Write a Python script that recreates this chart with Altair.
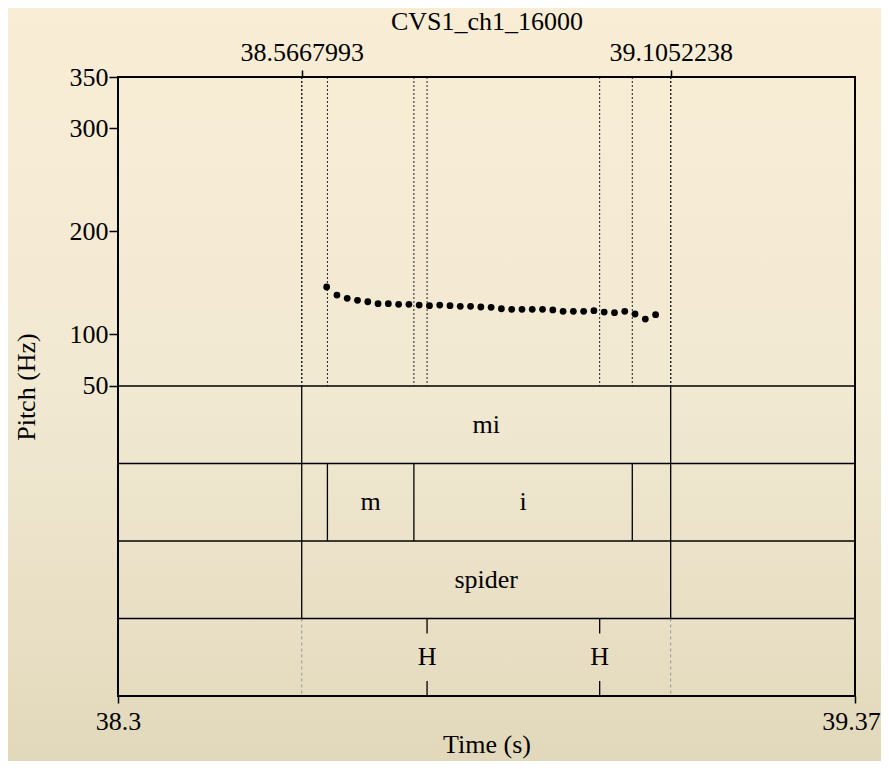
import altair as alt
import pandas as pd

# ---------------- data ----------------
pitch_times = [38.6032, 38.6182, 38.6332, 38.6482, 38.6632, 38.6782, 38.6932, 38.7082,
               38.7232, 38.7382, 38.7532, 38.7682, 38.7832, 38.7982, 38.8132, 38.8282,
               38.8432, 38.8582, 38.8732, 38.8882, 38.9032, 38.9182, 38.9332, 38.9482,
               38.9632, 38.9782, 38.9932, 39.0082, 39.0232, 39.0382, 39.0532, 39.0682,
               39.0832]
pitch_hz = [146.1, 138.3, 135.1, 133.2, 131.8, 129.9, 129.9, 129.3, 129.3, 128.6, 128.0,
            128.6, 128.0, 127.4, 127.4, 126.7, 126.4, 125.0, 124.4, 124.4, 124.4, 124.4,
            123.8, 122.5, 122.5, 122.5, 123.1, 121.8, 121.2, 122.5, 119.9, 115.0, 119.2]

top_tick_times = [38.5667993, 39.1052238]
bottom_tick_times = [38.2987, 39.3742]
y_ticks = [50, 100, 200, 300, 350]

tier1_bounds = [38.5667993, 39.1052238]
tier1_labels = ["mi"]
tier2_bounds = [38.5667993, 38.6043, 38.7305, 39.0492, 39.1052238]
tier2_labels = ["", "m", "i", ""]
tier3_bounds = [38.5667993, 39.1052238]
tier3_labels = ["spider"]
tier4_points = [38.7497, 39.0016]
tier4_labels = ["H", "H"]
tier4_guides = [38.5667993, 39.1052238]

title_top = "CVS1_ch1_16000"
x_title = "Time (s)"
y_title = "Pitch (Hz)"

# ---------------- layout constants ----------------
X_DOMAIN = [38.2987, 39.3742]
PITCH_MIN, PITCH_MAX = 50, 350
TIER_H = 75.25
N_TIERS = 4
Y_DOMAIN = [PITCH_MIN - N_TIERS * TIER_H, PITCH_MAX]
PT_TICK = 14.6
FONT = "Liberation Serif"
FS = 26
W, H = 737, 619
PAD = {"left": 110, "top": 69, "right": 26, "bottom": 65}

xs = alt.Scale(domain=X_DOMAIN, nice=False, zero=False)
ys = alt.Scale(domain=Y_DOMAIN, nice=False, zero=False)


def tier_top(i):
    return PITCH_MIN - i * TIER_H


def tier_bot(i):
    return PITCH_MIN - (i + 1) * TIER_H


# build tables
interval_tiers = [(0, tier1_bounds, tier1_labels), (1, tier2_bounds, tier2_labels),
                  (2, tier3_bounds, tier3_labels)]
vb_rows, lab_rows, dot_rows = [], [], []
for i, bounds, labels in interval_tiers:
    for b in bounds:
        vb_rows.append({"t": b, "y0": tier_top(i), "y1": tier_bot(i)})
        dot_rows.append({"t": b, "y0": PITCH_MAX, "y1": PITCH_MIN})
    for k, lab in enumerate(labels):
        if lab:
            lab_rows.append({"t": (bounds[k] + bounds[k + 1]) / 2,
                             "y": (tier_top(i) + tier_bot(i)) / 2, "txt": lab})
pt_rows = []
for p, lab in zip(tier4_points, tier4_labels):
    dot_rows.append({"t": p, "y0": PITCH_MAX, "y1": PITCH_MIN})
    pt_rows.append({"t": p, "y0": tier_top(3), "y1": tier_top(3) - PT_TICK})
    pt_rows.append({"t": p, "y0": tier_bot(3) + PT_TICK, "y1": tier_bot(3)})
    lab_rows.append({"t": p, "y": (tier_top(3) + tier_bot(3)) / 2, "txt": lab})
guide_rows = [{"t": g, "y0": tier_top(3), "y1": tier_bot(3)} for g in tier4_guides]
hline_rows = [{"y": tier_top(i)} for i in range(N_TIERS)]
frame_df = pd.DataFrame({"x0": [X_DOMAIN[0]], "x1": [X_DOMAIN[1]],
                         "y0": [Y_DOMAIN[0]], "y1": [Y_DOMAIN[1]]})
pts_df = pd.DataFrame({"t": pitch_times, "hz": pitch_hz})

axis_common = dict(domain=False, labelFlush=False, labelOverlap=False, zindex=2,
                   labelFont=FONT, titleFont=FONT, labelFontSize=FS, titleFontSize=FS,
                   titleFontWeight="normal", labelColor="black", titleColor="black",
                   tickColor="black", tickWidth=1.5, grid=False)

# ---------------- layers ----------------
bg = alt.Chart(pd.DataFrame({"k": [0]})).mark_rect(
    fill=alt.Gradient(
        gradient="linear",
        stops=[alt.GradientStop(color="#f9edd5", offset=0),
               alt.GradientStop(color="#f2e9d3", offset=0.5),
               alt.GradientStop(color="#e2d9bc", offset=1)],
        x1=0, x2=0, y1=0, y2=1),
    strokeWidth=0,
).encode(x=alt.value(-PAD["left"]), x2=alt.value(W + PAD["right"]),
         y=alt.value(-PAD["top"]), y2=alt.value(H + PAD["bottom"]))

dotted = alt.Chart(pd.DataFrame(dot_rows)).mark_rule(
    strokeDash=[2, 2], strokeWidth=1, color="#222"
).encode(
    x=alt.X("t:Q", scale=xs, axis=alt.Axis(
        orient="top", values=top_tick_times, format=".7f", title=title_top,
        tickSize=7, labelPadding=5, titlePadding=5, **axis_common)),
    y=alt.Y("y0:Q", scale=ys, axis=None), y2="y1:Q",
)

guides = alt.Chart(pd.DataFrame(guide_rows)).mark_rule(
    strokeDash=[3, 3], strokeWidth=1, color="#999"
).encode(x=alt.X("t:Q", scale=xs, axis=None),
         y=alt.Y("y0:Q", scale=ys, axis=None), y2="y1:Q")

hlines = alt.Chart(pd.DataFrame(hline_rows)).mark_rule(
    strokeWidth=1.6, color="black"
).encode(y=alt.Y("y:Q", scale=ys, axis=None))

vbounds = alt.Chart(pd.DataFrame(vb_rows)).mark_rule(
    strokeWidth=1.3, color="black"
).encode(x=alt.X("t:Q", scale=xs, axis=None),
         y=alt.Y("y0:Q", scale=ys, axis=None), y2="y1:Q")

pticks = alt.Chart(pd.DataFrame(pt_rows)).mark_rule(
    strokeWidth=1.3, color="black"
).encode(x=alt.X("t:Q", scale=xs, axis=None),
         y=alt.Y("y0:Q", scale=ys, axis=None), y2="y1:Q")

labels = alt.Chart(pd.DataFrame(lab_rows)).mark_text(
    font=FONT, fontSize=FS, color="black", align="center", baseline="middle"
).encode(x=alt.X("t:Q", scale=xs, axis=None),
         y=alt.Y("y:Q", scale=ys, axis=None), text="txt:N")

frame = alt.Chart(frame_df).mark_rect(
    fillOpacity=0, stroke="black", strokeWidth=2
).encode(x=alt.X("x0:Q", scale=xs, axis=None), x2="x1:Q",
         y=alt.Y("y0:Q", scale=ys, axis=None), y2="y1:Q")

points = alt.Chart(pts_df).mark_circle(size=46, color="black", opacity=1).encode(
    x=alt.X("t:Q", scale=xs, axis=alt.Axis(
        orient="bottom", values=bottom_tick_times, format=".2~f", title=x_title,
        tickSize=7, labelPadding=5, titlePadding=-3,
        labelOffset=alt.condition("datum.value > 39", alt.value(-4), alt.value(0)),
        **axis_common)),
    y=alt.Y("hz:Q", scale=ys, axis=alt.Axis(
        orient="left", values=y_ticks, title=y_title, tickSize=9, labelPadding=1,
        titlePadding=30, **axis_common)),
)

chart = alt.layer(
    bg, dotted, guides, hlines, vbounds, pticks, labels, frame, points
).resolve_axis(x="independent", y="independent").properties(
    width=W, height=H,
    autosize=alt.AutoSizeParams(type="none"),
    padding=PAD,
    background="#efe5cc",
).configure(font=FONT).configure_view(stroke=None)

chart.save("out.html", embed_options={"renderer": "svg", "actions": False})
